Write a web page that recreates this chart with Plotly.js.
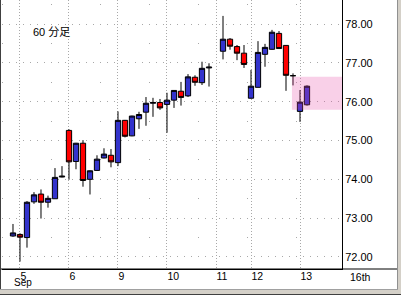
<!DOCTYPE html>
<html><head><meta charset="utf-8">
<script src="https://cdn.plot.ly/plotly-3.0.1.min.js"></script>
<style>
html,body{margin:0;padding:0;background:#d4d0c8;width:401px;height:295px;overflow:hidden}
#leftEdge{position:absolute;left:0;top:0;width:1px;height:290px;background:#404040}
#chart{position:absolute;left:1px;top:0;width:396px;height:289px;background:#fff}
#rightEdge{position:absolute;left:397px;top:0;width:1px;height:290px;background:#909090}
#bottomEdge{position:absolute;left:0;top:289px;width:398px;height:1px;background:#a0a0a0}
#bottomDark{position:absolute;left:0;top:294px;width:401px;height:1px;background:#404040}
</style></head>
<body>
<div id="leftEdge"></div><div id="chart"></div><div id="rightEdge"></div><div id="bottomEdge"></div><div id="bottomDark"></div>
<script>
// 60-minute bars (slot index = position in arrays; slot 29 has no bar)
const open  = [72.54,72.58,72.50,73.42,73.62,73.41,73.50,74.06,75.26,74.46,74.93,74.00,74.23,74.55,74.62,74.43,75.52,75.12,75.56,75.73,75.96,75.98,75.93,76.04,76.27,76.15,76.63,76.49,76.87,null,77.30,77.61,77.42,77.25,76.09,76.37,77.22,77.35,77.76,77.45,76.67,75.75,75.92];
const high  = [72.85,72.61,73.44,73.67,73.74,73.58,74.29,74.34,75.29,74.94,75.01,74.23,74.62,74.80,74.78,75.75,75.53,75.64,75.74,76.12,76.10,76.07,76.23,76.30,76.51,76.71,76.68,77.03,76.99,null,78.21,77.64,77.46,77.46,76.82,77.56,77.49,77.85,77.82,77.46,76.73,76.30,76.42];
const low   = [72.52,71.88,72.24,73.37,72.99,73.27,73.50,74.05,73.99,74.26,73.81,73.61,74.22,74.54,74.31,74.34,75.08,75.11,75.30,75.38,75.61,75.79,75.20,75.84,75.90,76.12,76.41,76.43,76.39,null,77.09,77.34,77.07,76.87,76.08,76.37,76.90,77.34,77.37,76.28,76.42,75.48,75.90];
const close = [72.62,72.51,73.41,73.60,73.41,73.51,74.05,74.08,74.45,74.93,73.97,74.22,74.52,74.65,74.45,75.52,75.11,75.63,75.67,75.96,75.98,75.84,76.04,76.29,76.11,76.64,76.50,76.86,76.89,null,77.61,77.43,77.25,76.96,76.40,77.27,77.40,77.79,77.37,76.68,76.67,75.99,76.40];

const dayLabels     = ['5','6','9','10','11','12','13','16th'];
const dayStartSlots = [1, 8, 15, 22, 29, 34, 41, 48];
const monthLabel    = 'Sep';
const chartLabel    = '60 分足';

const highlightStartSlot = 39.85;
const highlightPrice     = [75.79, 76.64];

const yTicks = [72, 73, 74, 75, 76, 77, 78];

const slots = open.map((_, i) => i);
const xRange = [-1.57, 47];
const yRange = [71.69, 78.62];

const W = 396, H = 289, ml = 1, mr = 55, mt = 0, mb = 20;
const plotW = W - ml - mr;

const FONT = 'Liberation Sans, Arial, sans-serif';
const days = dayStartSlots.map((s,i)=>({s, t: dayLabels[i]}));
const inRange = days.filter(d => d.s <= xRange[1]);
const outRange = days.filter(d => d.s > xRange[1]);

const trace = {
  type: 'candlestick',
  x: slots, open, high, low, close,
  whiskerwidth: 0,
  increasing: {line: {color: '#000000', width: 1}, fillcolor: '#3333cc'},
  decreasing: {line: {color: '#000000', width: 1}, fillcolor: '#ff0000'},
  hoverinfo: 'skip',
  showlegend: false
};

const annotations = [
  {xref: 'paper', yref: 'paper', x: 0.085, y: 0.882, xanchor: 'left', yanchor: 'middle',
   text: chartLabel, showarrow: false, font: {family: 'Liberation Sans, Noto Sans CJK JP', size: 11, color: '#000'}},
  {xref: 'x', yref: 'paper', x: dayStartSlots[0], y: 0, xanchor: 'center', yanchor: 'bottom', xshift: 3, yshift: -20,
   borderpad: 0, text: monthLabel, showarrow: false, font: {family: FONT, size: 10, color: '#000'}}
];
outRange.forEach(d => annotations.push({
  xref: 'paper', yref: 'paper', x: (d.s - xRange[0]) / (xRange[1] - xRange[0]), y: 0,
  xanchor: 'left', yanchor: 'top', yshift: -1, borderpad: 0, text: d.t, showarrow: false,
  font: {family: FONT, size: 10.5, color: '#000'}
}));

const layout = {
  width: W, height: H,
  margin: {l: ml, r: mr, t: mt, b: mb, pad: 0},
  paper_bgcolor: '#ffffff', plot_bgcolor: '#ffffff',
  boxgap: 0.25, boxgroupgap: 0,
  xaxis: {
    type: 'linear', range: xRange, rangeslider: {visible: false},
    tickmode: 'array', tickvals: inRange.map(d=>d.s), ticktext: inRange.map(d=>d.t),
    ticklabelposition: 'outside right', ticks: '', ticklabelstandoff: -3,
    showgrid: true, gridcolor: '#a8a8a8', gridwidth: 1, griddash: '1px,2px',
    zeroline: false, showline: true, linecolor: '#000', linewidth: 1,
    tickfont: {family: FONT, size: 10.5, color: '#000'}, fixedrange: true
  },
  yaxis: {
    side: 'right', range: yRange, tickmode: 'array', tickvals: yTicks,
    tickformat: '.2f', ticks: '',
    showgrid: true, gridcolor: '#a8a8a8', gridwidth: 1, griddash: '1px,6px',
    minor: {dtick: 0.5, showgrid: true, gridcolor: '#a8a8a8', griddash: '1px,48px', gridwidth: 1},
    zeroline: false, showline: true, linecolor: '#000', linewidth: 1,
    tickfont: {family: FONT, size: 11, color: '#000'}, fixedrange: true
  },
  shapes: [
    {type: 'rect', xref: 'x', yref: 'y', x0: highlightStartSlot, x1: xRange[1],
     y0: highlightPrice[0], y1: highlightPrice[1], fillcolor: 'rgba(231,67,163,0.25)',
     line: {width: 0}, layer: 'above'},
    {type: 'line', xref: 'paper', yref: 'paper', x0: -ml/plotW, x1: (W - ml)/plotW, y0: 0, y1: 0,
     line: {color: '#000', width: 1}}
  ],
  annotations
};

Plotly.newPlot('chart', [trace], layout, {staticPlot: true, displayModeBar: false});
</script>
</body></html>
